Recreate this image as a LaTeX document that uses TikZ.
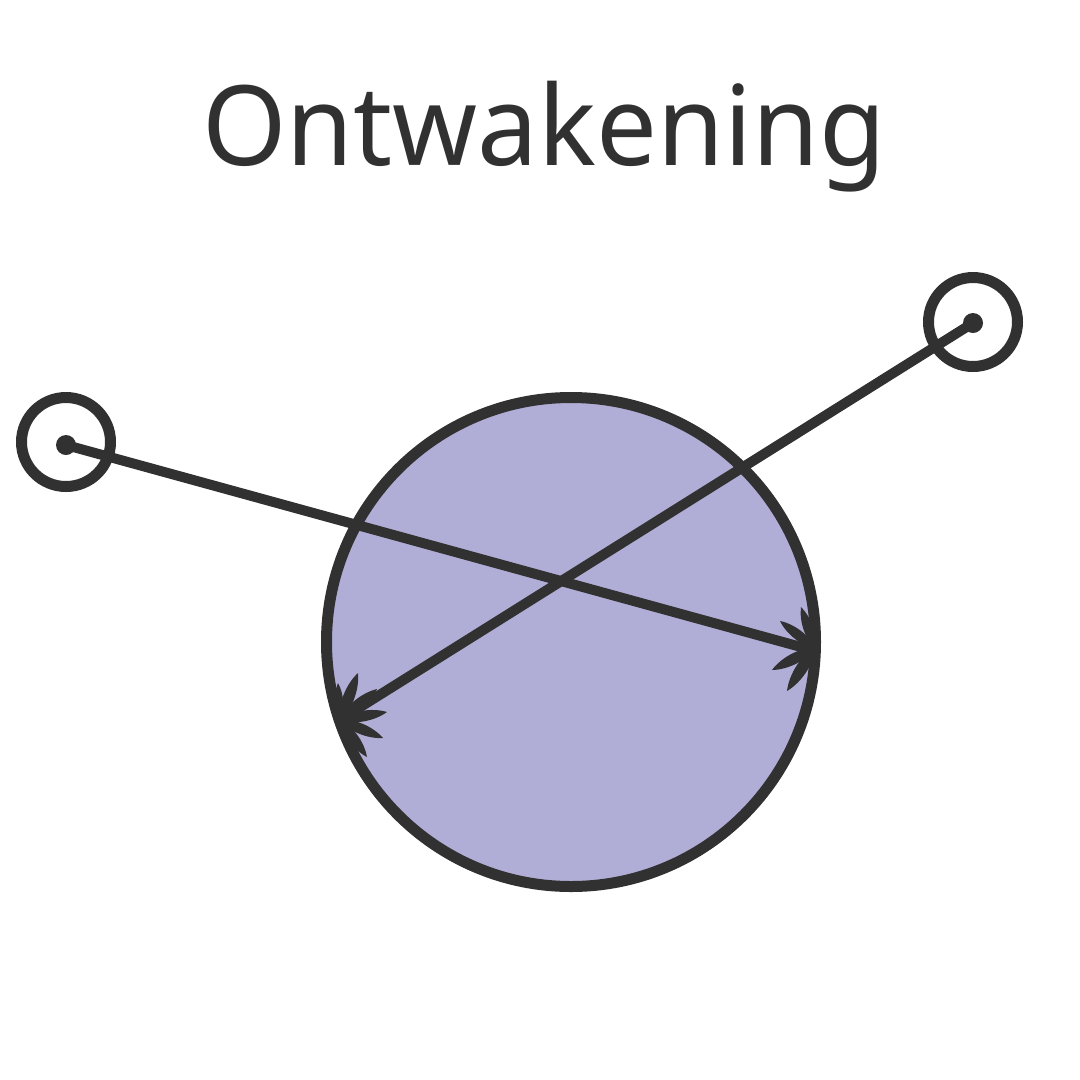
\documentclass[tikz,border=0pt]{standalone}
\usepackage{fontspec}
\setmainfont{Noto Sans}
\definecolor{ink}{HTML}{313131}
\definecolor{disc}{HTML}{B0AED6}
\newcommand{\leaf}[4]{%
 \pgfmathsetmacro{\ldx}{#3-#1}\pgfmathsetmacro{\ldy}{#4-#2}%
 \fill[ink] (#1,#2)
  .. controls ({#1+.25*\ldx-.15*\ldy},{#2+.25*\ldy+.15*\ldx}) and ({#1+.7*\ldx-.15*\ldy},{#2+.7*\ldy+.15*\ldx}) .. (#3,#4)
  .. controls ({#1+.7*\ldx+.15*\ldy},{#2+.7*\ldy-.15*\ldx}) and ({#1+.25*\ldx+.15*\ldy},{#2+.25*\ldy-.15*\ldx}) .. (#1,#2) -- cycle;}
\tikzset{x=1pt,y=-1pt,
 ring/.style={circle,draw=ink,line width=11pt,inner sep=0pt,minimum size=#1},
 pin/.style={circle,fill=ink,inner sep=0pt,minimum size=20pt},
 shaft/.style={draw=ink,line width=10pt},
 title/.style={text=ink,inner sep=0pt,font=\fontsize{111}{111}\selectfont}}
\begin{document}
\begin{tikzpicture}
\useasboundingbox (0,0) rectangle (1080,1080);
\node[ring=489pt,fill=disc] (big) at (571,642) {};
\node[ring=89pt] (ringL) at (66,442) {};
\node[ring=89pt] (ringR) at (973,322) {};
\node[pin] (pinL) at (66,445) {};
\node[pin] (pinR) at (973,323) {};
\coordinate (tipR) at (812,650);
\coordinate (tipL) at (338,721);
\draw[shaft] (pinL.center) -- (tipR);
\draw[shaft] (pinR.center) -- (tipL);
\leaf{340}{720}{358}{673}\leaf{340}{720}{338}{683}\leaf{340}{720}{377}{689}
\leaf{340}{720}{387}{712}\leaf{340}{720}{383}{738}\leaf{340}{720}{367}{757}
\leaf{815}{648}{801}{607}\leaf{815}{648}{780}{621}\leaf{815}{648}{772}{670}\leaf{815}{648}{787}{691}
\node[title,anchor=base] (head) at (544,165) {\scalebox{.975}[1]{Ontwakening}};
\end{tikzpicture}
\end{document}
